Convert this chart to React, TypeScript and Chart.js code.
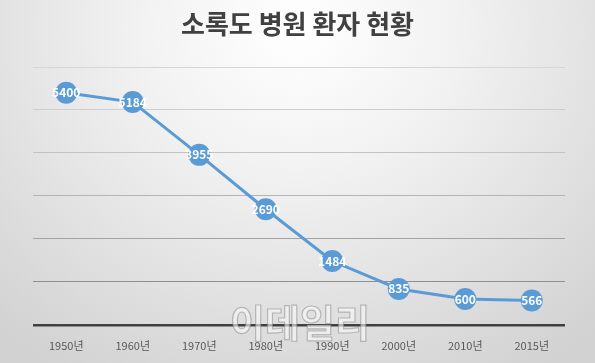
import React, { useEffect, useRef } from "react";
import { Chart, registerables } from "chart.js";

Chart.register(...registerables);

const title = "소록도 병원 환자 현황";
const categories = ["1950년", "1960년", "1970년", "1980년", "1990년", "2000년", "2010년", "2015년"];
const patients = [5400, 5184, 3955, 2690, 1484, 835, 600, 566];
const yMin = 0;
const yMax = 6000;
const yStep = 1000;
const watermark = "이데일리";
const gridColors = ["#404040", "#8f8f8f", "#a3a3a3", "#b4b4b4", "#c3c3c3", "#cecece", "#d6d6d6"];

const KR = '"Noto Sans CJK KR", "Noto Sans", sans-serif';

const labelPlugin = {
  id: "pointLabels",
  afterDatasetsDraw(chart: any) {
    const ctx = chart.ctx;
    const meta = chart.getDatasetMeta(0);
    ctx.save();
    ctx.font = `bold 12px ${KR}`;
    ctx.fillStyle = "#ffffff";
    ctx.textAlign = "center";
    ctx.textBaseline = "middle";
    meta.data.forEach((pt: any, i: number) => {
      ctx.fillText(String(patients[i]), pt.x, pt.y);
    });
    ctx.restore();
  },
};

const titlePlugin = {
  id: "customTitle",
  afterDraw(chart: any) {
    const ctx = chart.ctx;
    ctx.save();
    ctx.font = `bold 26px ${KR}`;
    ctx.fillStyle = "#404040";
    ctx.textAlign = "center";
    ctx.textBaseline = "middle";
    ctx.fillText(title, chart.width / 2, 24);
    // watermark
    ctx.font = `bold 38px ${KR}`;
    ctx.lineWidth = 1.2;
    ctx.strokeStyle = "rgba(120,120,120,0.45)";
    ctx.fillStyle = "rgba(248,248,248,0.6)";
    ctx.fillText(watermark, 300, 323);
    ctx.strokeText(watermark, 300, 323);
    ctx.restore();
  },
};

export default function App() {
  const ref = useRef<HTMLCanvasElement>(null);
  useEffect(() => {
    document.body.style.margin = "0";
    const chart = new Chart(ref.current!, {
      type: "line",
      data: {
        labels: categories,
        datasets: [
          {
            data: patients,
            borderColor: "#5b9bd5",
            backgroundColor: "#5b9bd5",
            borderWidth: 3,
            pointRadius: 11,
            pointHoverRadius: 11,
            pointBorderWidth: 0,
            pointBackgroundColor: "#5b9bd5",
            tension: 0,
          },
        ],
      },
      plugins: [labelPlugin, titlePlugin],
      options: {
        animation: false,
        responsive: false,
        devicePixelRatio: 1,
        layout: { padding: { top: 67, left: 33, right: 30, bottom: -3 } },
        plugins: { legend: { display: false }, title: { display: false }, tooltip: { enabled: false } },
        scales: {
          x: {
            offset: true,
            grid: { display: false, drawTicks: false },
            border: { display: false },
            ticks: {
              color: "#595959",
              font: { size: 11, family: KR },
              padding: 14,
              maxRotation: 0,
            },
          },
          y: {
            min: yMin,
            max: yMax,
            ticks: { display: false, stepSize: yStep },
            border: { display: false },
            grid: {
              drawTicks: false,
              color: (c: any) => gridColors[c.index] || "#d6d6d6",
              lineWidth: (c: any) => (c.index === 0 ? 2.5 : 1),
            },
          },
        },
      },
    });
    return () => chart.destroy();
  }, []);
  return (
    <div
      style={{
        position: "fixed",
        left: 0,
        top: 0,
        width: 595,
        height: 363,
        background: "radial-gradient(ellipse 75% 110% at 50% 8%, #ffffff 0%, #f2f2f2 35%, #d2d2d2 100%)",
      }}
    >
      <canvas ref={ref} width={595} height={363} />
    </div>
  );
}
